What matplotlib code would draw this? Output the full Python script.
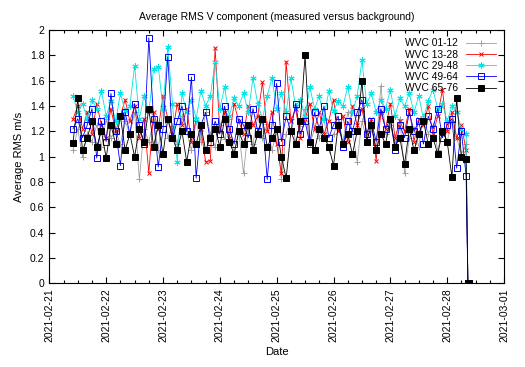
import matplotlib
matplotlib.use("Agg")
import matplotlib.pyplot as plt
import matplotlib.dates as mdates
import pandas as pd

plt.rcParams['font.family'] = ['Liberation Sans', 'DejaVu Sans']

# samples every 2 hours, then the two empty samples at the end
times = list(pd.date_range("2021-02-21 10:00", periods=84, freq="2h"))
end_times = [pd.Timestamp("2021-02-28 08:45"), pd.Timestamp("2021-02-28 09:15")]
end_values = [0.0, 0.0]

wvc_01_12 = [1.05, 1.22, 1.00, 1.18, 1.12, 1.25, 1.08, 1.30, 1.15, 1.20, 1.10, 1.28,
             1.18, 1.35, 0.82, 1.22, 1.12, 1.28, 1.05, 1.40, 1.15, 1.24, 1.10, 1.32,
             1.20, 1.05, 1.28, 1.12, 1.35, 1.18, 1.08, 1.25, 1.14, 1.30, 1.02, 1.20,
             0.87, 1.22, 1.10, 1.32, 1.15, 1.26, 1.05, 1.20, 0.82, 1.18, 1.30, 1.12,
             1.24, 1.38, 1.10, 1.22, 1.15, 1.30, 1.05, 1.18, 1.26, 1.12, 1.35, 1.20,
             0.96, 1.28, 1.14, 1.22, 1.08, 1.56, 1.18, 1.25, 1.10, 1.30, 0.87, 1.15,
             1.22, 1.08, 1.32, 1.18, 1.25, 1.05, 1.20, 1.12, 1.28, 1.15, 1.02, 1.10]
wvc_13_28 = [1.30, 1.40, 1.22, 1.35, 1.18, 1.42, 1.25, 1.15, 1.38, 1.20, 1.32, 1.45,
             1.28, 1.40, 1.15, 1.30, 0.87, 1.35, 1.22, 1.48, 1.30, 1.18, 1.42, 1.25,
             1.38, 1.12, 1.30, 1.22, 0.96, 0.97, 1.86, 1.20, 1.35, 1.15, 1.42, 1.28,
             1.18, 1.40, 1.25, 1.32, 1.59, 1.20, 1.35, 1.10, 0.87, 1.75, 1.28, 1.38,
             1.15, 1.30, 1.42, 1.22, 1.35, 1.18, 1.28, 1.45, 1.20, 1.32, 1.12, 1.40,
             1.25, 1.38, 1.18, 1.30, 0.97, 1.35, 1.22, 1.42, 1.15, 1.28, 1.20, 1.38,
             1.12, 1.30, 1.25, 1.40, 1.18, 1.32, 1.53, 1.20, 1.35, 1.15, 1.25, 1.05]
wvc_29_48 = [1.48, 1.35, 1.42, 1.30, 1.45, 1.38, 1.52, 1.32, 1.44, 1.28, 1.50, 1.36,
             1.40, 1.72, 1.30, 1.48, 1.35, 1.69, 1.71, 1.38, 1.87, 1.42, 0.96, 1.50,
             1.35, 1.45, 1.30, 1.52, 1.40, 1.48, 1.75, 1.38, 1.55, 1.32, 1.46, 1.40,
             1.50, 1.35, 1.62, 1.42, 1.30, 1.48, 1.62, 1.38, 1.50, 1.35, 1.62, 1.40,
             1.45, 1.32, 1.55, 1.38, 1.48, 1.30, 1.52, 1.36, 1.44, 1.40, 1.55, 1.35,
             1.48, 1.76, 1.42, 1.50, 1.35, 1.45, 1.38, 1.53, 1.32, 1.46, 1.40, 1.50,
             1.35, 1.48, 1.30, 1.44, 1.53, 1.38, 1.42, 1.28, 1.40, 1.35, 1.22, 1.18]
wvc_49_64 = [1.22, 1.30, 1.15, 1.25, 1.38, 0.99, 1.28, 1.12, 1.50, 1.20, 0.93, 1.35,
             1.18, 1.42, 1.25, 1.10, 1.94, 1.30, 0.92, 1.22, 1.79, 1.15, 1.28, 1.40,
             1.20, 1.63, 0.83, 1.25, 1.35, 1.12, 1.28, 1.18, 1.40, 1.22, 1.10, 1.30,
             1.25, 1.15, 1.38, 1.20, 1.30, 0.82, 1.25, 1.58, 1.12, 1.32, 1.20, 1.42,
             1.18, 1.28, 1.10, 1.35, 1.22, 1.40, 1.15, 1.25, 1.32, 1.08, 1.28, 1.20,
             1.35, 1.45, 1.18, 1.28, 1.12, 1.38, 1.22, 1.30, 1.05, 1.25, 1.15, 1.35,
             1.20, 1.28, 1.10, 1.32, 1.22, 1.38, 1.15, 1.25, 1.30, 0.91, 1.20, 0.85]
wvc_65_76 = [1.11, 1.46, 1.05, 1.15, 1.28, 1.08, 1.20, 0.99, 1.25, 1.10, 1.32, 1.05,
             1.18, 1.00, 1.22, 1.12, 1.38, 1.08, 1.25, 1.02, 1.30, 1.15, 1.05, 1.20,
             0.96, 1.18, 1.10, 1.25, 1.05, 1.15, 1.22, 1.08, 1.30, 1.12, 1.02, 1.20,
             1.10, 1.25, 1.05, 1.18, 1.30, 1.08, 1.15, 1.22, 1.00, 0.83, 1.20, 1.10,
             1.28, 1.80, 1.12, 1.05, 1.22, 1.15, 1.08, 0.93, 1.25, 1.10, 1.18, 1.02,
             1.20, 1.60, 1.12, 1.25, 1.05, 1.18, 1.10, 1.30, 1.08, 1.15, 0.94, 1.22,
             1.05, 1.18, 1.28, 1.10, 1.15, 1.02, 1.20, 1.12, 0.84, 1.46, 1.00, 0.98]

series = [
    ("WVC 01-12", wvc_01_12, "#a0a0a0", "+", dict(ms=4.5)),
    ("WVC 13-28", wvc_13_28, "#ff0000", "x", dict(ms=3.5)),
    ("WVC 29-48", wvc_29_48, "#00e5e5", (6, 2, 0), dict(ms=4.5)),
    ("WVC 49-64", wvc_49_64, "#0000ff", "s", dict(ms=3.8, mfc="none")),
    ("WVC 65-76", wvc_65_76, "#000000", "s", dict(ms=3.8)),
]

fig = plt.figure(figsize=(5.25, 3.67), dpi=100)
ax = fig.add_axes([0.094, 0.228, 0.866, 0.69])

for name, vals, color, marker, kw in series:
    ax.plot(times + end_times, vals + end_values, color=color, lw=0.6,
            marker=marker, mew=0.7, label=name, **kw)

ax.set_xlim(pd.Timestamp("2021-02-21"), pd.Timestamp("2021-03-01"))
ax.set_ylim(0, 2)
ax.set_yticks([0, 0.2, 0.4, 0.6, 0.8, 1, 1.2, 1.4, 1.6, 1.8, 2])
ax.set_yticklabels(["0", "0.2", "0.4", "0.6", "0.8", "1", "1.2", "1.4", "1.6", "1.8", "2"])
ax.xaxis.set_major_locator(mdates.DayLocator())
ax.xaxis.set_minor_locator(mdates.HourLocator(byhour=[6, 12, 18]))
ax.xaxis.set_major_formatter(mdates.DateFormatter("%Y-%m-%d"))
ax.tick_params(axis="both", which="both", direction="in", top=True, right=True,
               labelsize=7.5, width=0.8)
ax.tick_params(axis="both", which="major", length=4)
ax.tick_params(axis="x", which="minor", length=2)
plt.setp(ax.get_xticklabels(), rotation=90)

ax.set_title("Average RMS V component (measured versus background)", fontsize=7.5, pad=7)
ax.set_xlabel("Date", fontsize=8)
ax.set_ylabel("Average RMS m/s", fontsize=8)

ax.legend(loc="upper right", frameon=False, markerfirst=False, fontsize=7.4,
          handlelength=2.9, labelspacing=0.12, borderaxespad=0.4, handletextpad=0.8)

fig.savefig("out.png", dpi=100)
